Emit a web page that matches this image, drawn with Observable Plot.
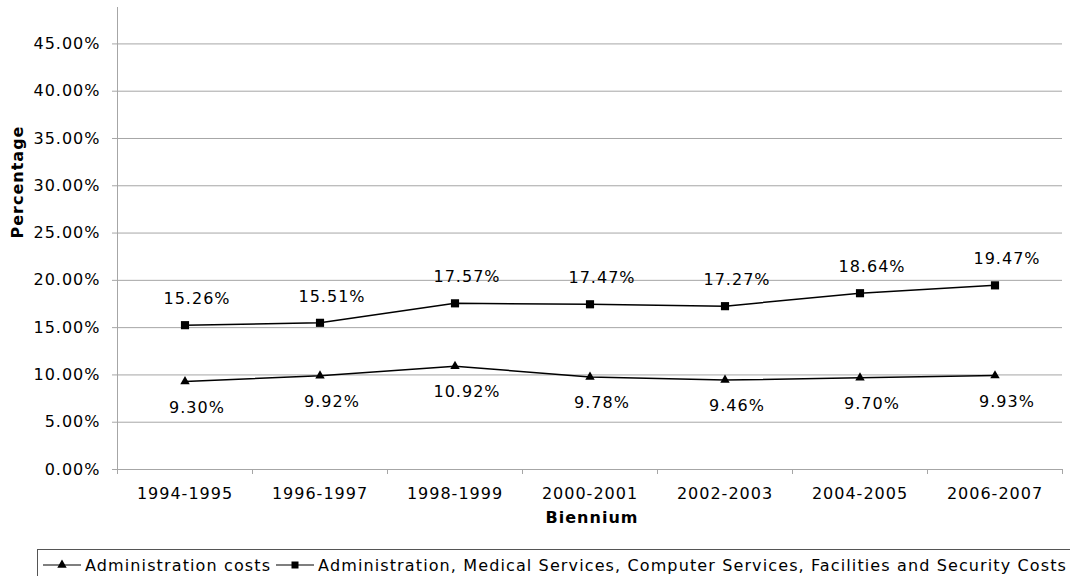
<!DOCTYPE html>
<html>
<head>
<meta charset="utf-8">
<script src="https://cdn.jsdelivr.net/npm/d3@7"></script>
<script src="https://cdn.jsdelivr.net/npm/@observablehq/plot@0.6"></script>
<style>
  html, body { margin: 0; padding: 0; background: #fff; }
  #wrap { position: relative; width: 1070px; height: 576px; overflow: hidden; font-family: "DejaVu Sans", Verdana, sans-serif; }
  #legend { position: absolute; left: 37px; top: 549px; width: 1060px; height: 32px; border: 1px solid #555; box-sizing: border-box; display: flex; align-items: center; font-size: 16px; letter-spacing: 1.12px; color: #000; white-space: nowrap; }
  #legend .item { display: flex; align-items: center; margin-left: 5px; }
  #legend svg { margin-right: 4px; }
</style>
</head>
<body>
<div id="wrap"><div id="chart"></div><div id="legend"></div></div>
<script>
const categories = ["1994-1995", "1996-1997", "1998-1999", "2000-2001", "2002-2003", "2004-2005", "2006-2007"];
const seriesNames = ["Administration costs", "Administration, Medical Services, Computer Services, Facilities and Security Costs"];
const adminCosts = [9.30, 9.92, 10.92, 9.78, 9.46, 9.70, 9.93];
const allCosts = [15.26, 15.51, 17.57, 17.47, 17.27, 18.64, 19.47];
const yTicks = [0, 5, 10, 15, 20, 25, 30, 35, 40, 45];

const rowsA = categories.map((c, i) => ({i: i + 0.5, v: adminCosts[i] / 100}));
const rowsB = categories.map((c, i) => ({i: i + 0.5, v: allCosts[i] / 100}));
const fmt = d => (d * 100).toFixed(2) + "%";

const plot = Plot.plot({
  width: 1070,
  height: 546,
  marginLeft: 117,
  marginRight: 8,
  marginTop: 7,
  marginBottom: 77,
  style: {fontFamily: "DejaVu Sans, Verdana, sans-serif", fontSize: "16px", letterSpacing: "1px", color: "#000", background: "#fff"},
  x: {type: "linear", domain: [0, categories.length]},
  y: {type: "linear", domain: [0, 0.4885]},
  marks: [
    Plot.gridY(yTicks.filter(t => t > 0).map(t => t / 100), {stroke: "#a6a6a6", strokeOpacity: 1, strokeWidth: 1}),
    Plot.axisY(yTicks.map(t => t / 100), {tickFormat: fmt, tickSize: 5, tickPadding: 12, stroke: "#a6a6a6", label: null, fill: "#000", fontSize: 16}),
    Plot.axisX(d3.range(categories.length + 1), {tickSize: 5, tickFormat: () => "", stroke: "#a6a6a6", label: null}),
    Plot.axisX(d3.range(categories.length).map(i => i + 0.5), {tickSize: 0, tickPadding: 18, tickFormat: d => categories[Math.floor(d)], label: null, fill: "#000", fontSize: 16}),
    Plot.frame({anchor: "left", stroke: "#a6a6a6"}),
    Plot.frame({anchor: "bottom", stroke: "#a6a6a6"}),
    Plot.line(rowsB, {x: "i", y: "v", stroke: "#000", strokeWidth: 1.5}),
    Plot.line(rowsA, {x: "i", y: "v", stroke: "#000", strokeWidth: 1.5}),
    Plot.dot(rowsB, {x: "i", y: "v", symbol: "square", r: 4.6, fill: "#000", stroke: "none"}),
    Plot.dot(rowsA, {x: "i", y: "v", symbol: "triangle", r: 3.5, fill: "#000", stroke: "none"}),
    Plot.text(rowsB, {x: "i", y: "v", text: d => fmt(d.v), dy: -26, dx: 12, fontSize: 16, fill: "#000"}),
    Plot.text(rowsA, {x: "i", y: "v", text: d => fmt(d.v), dy: 26, dx: 12, fontSize: 16, fill: "#000"}),
    Plot.text(["Percentage"], {frameAnchor: "left", dx: -100, rotate: -90, fontWeight: "bold", fontSize: 16, fill: "#000"}),
    Plot.text(["Biennium"], {frameAnchor: "bottom", dy: 53, dx: 2, fontWeight: "bold", fontSize: 16, fill: "#000"})
  ]
});
document.getElementById("chart").appendChild(plot);

// Legend
const legend = d3.select("#legend");
seriesNames.forEach((name, k) => {
  const item = legend.append("div").attr("class", "item");
  const s = item.append("svg").attr("width", 38).attr("height", 12);
  s.append("line").attr("x1", 0).attr("x2", 38).attr("y1", 6).attr("y2", 6).attr("stroke", "#000").attr("stroke-width", 1.2);
  const sym = d3.symbol(k === 0 ? d3.symbolTriangle : d3.symbolSquare, k === 0 ? Math.PI * 3.5 * 3.5 : 49)();
  s.append("path").attr("d", sym).attr("transform", "translate(19,6)").attr("fill", "#000");
  item.append("span").text(name);
});
</script>
</body>
</html>
